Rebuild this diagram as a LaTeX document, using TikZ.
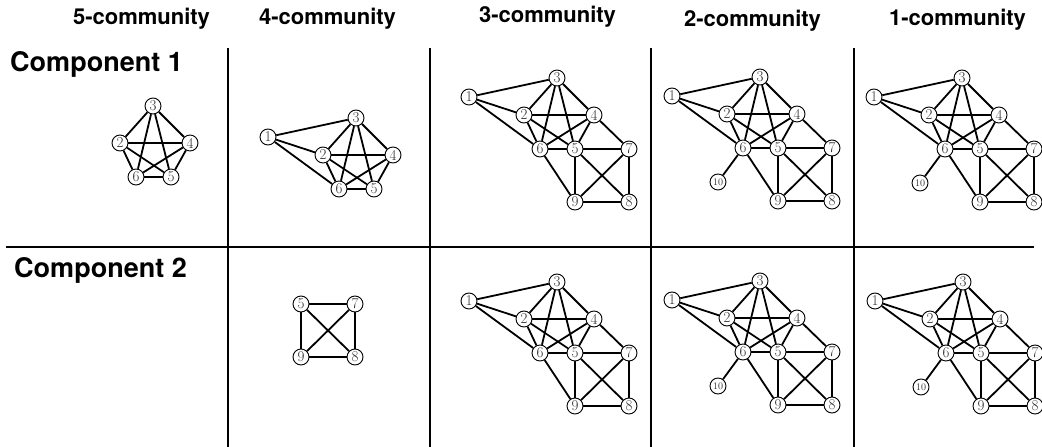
\documentclass[tikz,border=0pt]{standalone}
\usepackage{fontspec}
\newfontfamily\headfont{TeX Gyre Heros}

\tikzset{
  vertex/.style={draw, circle, fill=white, line width=0.9pt, minimum size=16pt,
    inner sep=0pt, text=black!80, font=\fontsize{15}{15}\selectfont},
  small vertex/.style={vertex, font=\fontsize{10}{10}\selectfont},
  edge/.style={line width=1.8pt},
  rule/.style={line width=2pt},
  header/.style={anchor=base, inner sep=0pt,
    font=\headfont\bfseries\fontsize{22}{26}\selectfont},
  rowlabel/.style={anchor=base west, inner sep=0pt,
    font=\headfont\bfseries\fontsize{27}{32}\selectfont}
}

% node positions relative to node 1
\newcommand{\pentnodes}{2/55/18,3/88/-19,4/125/18,5/106/52,6/71/52}
\newcommand{\onenodes}{1/0/0,2/55/18,3/88/-19,4/125/18,5/106/52,6/71/52}
\newcommand{\quadnodes}{5/106/52,7/160/52,8/160/105,9/106/105}
\newcommand{\fullnodes}{1/0/0,2/55/18,3/88/-19,4/125/18,5/106/52,6/71/52,7/160/52,8/160/105,9/106/105}

\newcommand{\pentedges}{3/2,3/4,3/6,3/5,2/4,2/6,2/5,4/6,4/5,6/5}
\newcommand{\oneedges}{1/3,1/2,1/6,3/2,3/4,3/6,3/5,2/4,2/6,2/5,4/6,4/5,6/5}
\newcommand{\quadedges}{5/7,5/9,5/8,7/9,7/8,9/8}
\newcommand{\fulledges}{1/3,1/2,1/6,3/2,3/4,3/6,3/5,2/4,2/6,2/5,4/6,4/5,6/5,4/7,6/9,5/7,5/9,5/8,7/9,7/8,9/8}

\newcommand{\commgraph}[4]{%
  \begin{scope}[shift={#2}]
    \foreach \n/\x/\y in #3 \node[vertex] (#1\n) at (\x,\y) {\n};
    \foreach \a/\b in #4 \draw[edge] (#1\a) -- (#1\b);
  \end{scope}}

\newcommand{\tengraph}[2]{%
  \commgraph{#1}{#2}{\fullnodes}{\fulledges}
  \begin{scope}[shift={#2}]
    \node[small vertex] (#110) at (46,86) {10};
    \draw[edge] (#16) -- (#110);
  \end{scope}}

\begin{document}
\begin{tikzpicture}[x=1pt, y=-1pt]
    \useasboundingbox (0,0) rectangle (1042,447);

    % headers
    \node[header] (h5) at (141.5,24) {5-community};
    \node[header] (h4) at (327.5,24) {4-community};
    \node[header] (h3) at (547.5,23) {3-community};
    \node[header] (h2) at (752.5,27) {2-community};
    \node[header] (h1) at (957.5,25) {1-community};
    \node[rowlabel] (r1) at (10,71) {Component 1};
    \node[rowlabel] (r2) at (14,277) {Component 2};

    % grid
    \draw[rule] (6,247) -- (1034,247);
    \foreach \gx in {228,430,651,854}
        \draw[rule] (\gx,48) -- (\gx,447);

    % component 1
    \commgraph{a}{(65,125)}{\pentnodes}{\pentedges}
    \commgraph{b}{(268,137)}{\onenodes}{\oneedges}
    \commgraph{c}{(469,97)}{\fullnodes}{\fulledges}
    \tengraph{d}{(672,96)}
    \tengraph{e}{(874,97)}

    % component 2
    \commgraph{f}{(195,252)}{\quadnodes}{\quadedges}
    \commgraph{g}{(469,301)}{\fullnodes}{\fulledges}
    \tengraph{k}{(672,300)}
    \tengraph{m}{(875,301)}
\end{tikzpicture}
\end{document}
